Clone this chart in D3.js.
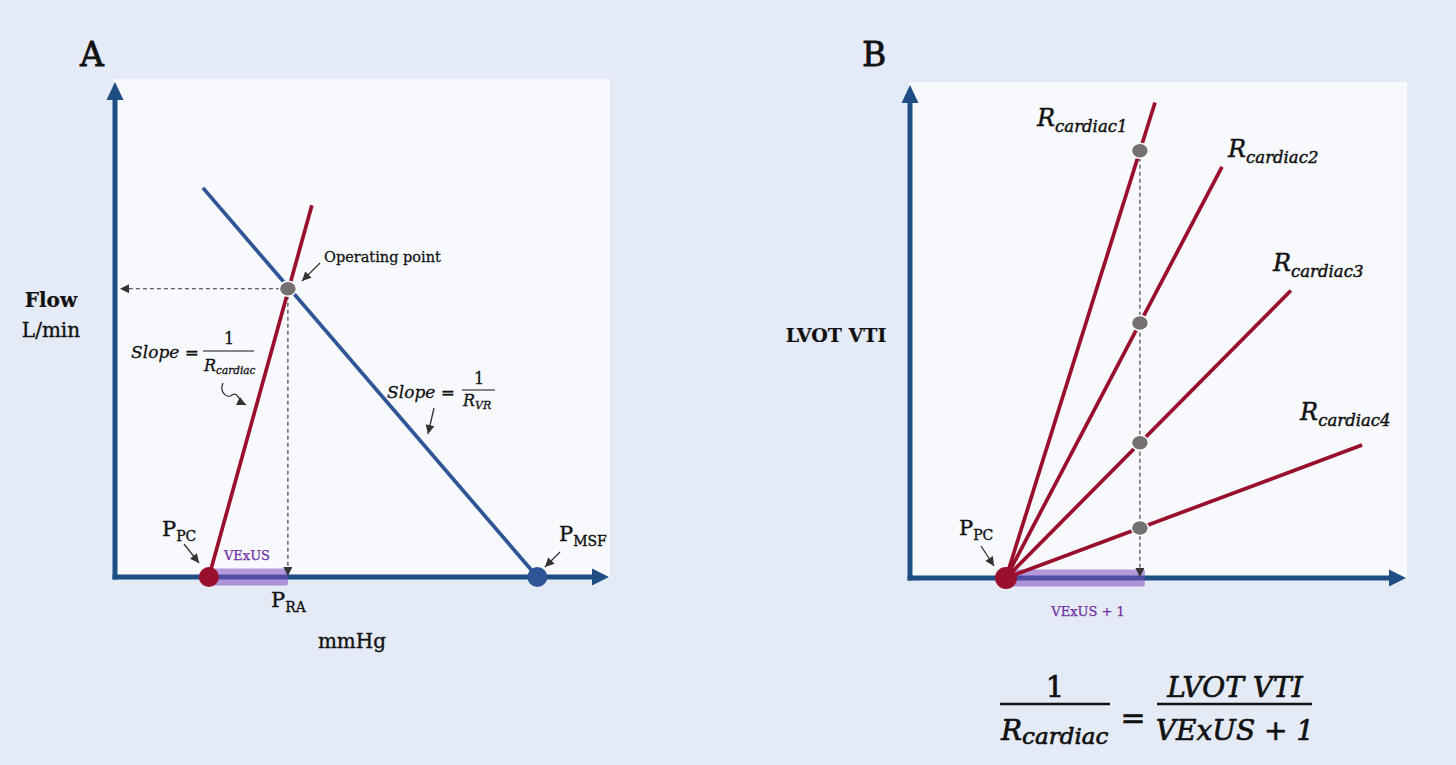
<!DOCTYPE html>
<html><head><meta charset="utf-8">
<script src="https://cdn.jsdelivr.net/npm/d3@7"></script>
<style>html,body{margin:0;padding:0;background:#e5ebf6;}svg{display:block;}</style>
</head><body>
<svg id="chart" width="1456" height="765"></svg>
<script>
// ---------- Data (abstract units) ----------
// Panel A: pressure (mmHg, arbitrary scale 0..20) vs flow (0..10)
const pressureA = { pPC: 3.8, pRA: 7.0, pMSF: 17.1 };
const cardiacLineA = [[3.8, 0], [7.97, 7.48]];   // red line
const venousLineA  = [[3.56, 7.83], [17.1, 0]];  // blue line
const operatingPoint = [7.0, 5.8];

// Panel B: VExUS+1 vs LVOT VTI
const pPCB = 3.87;
const vexusPlus1 = 9.27;
const rLabels = ["cardiac1", "cardiac2", "cardiac3", "cardiac4"];
const vtiAtVexus = [8.63, 5.15, 2.73, 1.01];
const lineEndX = [9.88, 12.58, 15.36, 18.23];

// ---------- Setup ----------
const svg = d3.select("#chart");
const C = { bg:"#e5ebf6", panel:"#f7f9fd", axis:"#1f4e85", blue:"#2f5597", red:"#9a0f2c",
            dot:"#767171", purple:"#7030a0", band:"rgba(125,75,190,0.55)", ink:"#111", arrow:"#333" };
const serif = "'DejaVu Serif', serif";

svg.append("rect").attr("width",1456).attr("height",765).attr("fill",C.bg);

const defs = svg.append("defs");
defs.append("marker").attr("id","ah").attr("viewBox","0 0 10 10").attr("refX",10).attr("refY",5)
  .attr("markerWidth",10).attr("markerHeight",9).attr("markerUnits","userSpaceOnUse").attr("orient","auto")
  .append("path").attr("d","M0,0 L10,5 L0,10 z").attr("fill",C.arrow);

function panel(x, y) {
  const g = svg.append("g");
  g.append("rect").attr("x",x.range()[0]).attr("y",y.range()[1])
    .attr("width",x.range()[1]-x.range()[0]).attr("height",y.range()[0]-y.range()[1])
    .attr("fill",C.panel).attr("stroke","#fbfcff").attr("stroke-width",1.5);
  const x0 = x.range()[0], y0 = y.range()[0], x1 = x.range()[1], y1 = y.range()[1];
  g.append("line").attr("x1",x0).attr("y1",y0+2.5).attr("x2",x0).attr("y2",y1+14)
    .attr("stroke",C.axis).attr("stroke-width",5);
  g.append("path").attr("d",`M${x0},${y1+2} L${x0-8.5},${y1+20} L${x0+8.5},${y1+20} Z`).attr("fill",C.axis);
  g.append("line").attr("x1",x0-2.5).attr("y1",y0).attr("x2",x1-12).attr("y2",y0)
    .attr("stroke",C.axis).attr("stroke-width",5);
  g.append("path").attr("d",`M${x1},${y0} L${x1-17},${y0-8.5} L${x1-17},${y0+8.5} Z`).attr("fill",C.axis);
  return g;
}
function pointer(g, x1, y1, x2, y2) {
  g.append("line").attr("x1",x1).attr("y1",y1).attr("x2",x2).attr("y2",y2)
    .attr("stroke",C.arrow).attr("stroke-width",1.3).attr("marker-end","url(#ah)");
}
function dashArrow(g, x1, y1, x2, y2) {
  g.append("line").attr("x1",x1).attr("y1",y1).attr("x2",x2).attr("y2",y2)
    .attr("stroke",C.arrow).attr("stroke-width",1.1).attr("stroke-dasharray","4,3").attr("marker-end","url(#ah)");
}
function styleText(t, size, opts) {
  const fill = opts.fill || C.ink;
  return t.attr("font-family",serif).attr("font-size",size).attr("fill",fill)
    .attr("font-weight",opts.bold?"bold":"normal").attr("font-style",opts.italic?"italic":"normal")
    .attr("text-anchor",opts.anchor||"start")
    .attr("stroke",fill).attr("stroke-width",opts.sw!==undefined?opts.sw:Math.max(0.25,size*0.018))
    .attr("stroke-linejoin","round");
}
function subText(g, x, y, main, sub, size, subSize, opts={}) {
  const t = styleText(g.append("text").attr("x",x).attr("y",y), size, opts);
  t.append("tspan").text(main);
  t.append("tspan").attr("dy",opts.dy||5).attr("font-size",subSize).text(sub);
  return t;
}
function text(g, x, y, s, size, opts={}) {
  return styleText(g.append("text").attr("x",x).attr("y",y), size, opts).text(s);
}

// ---------- Panel A ----------
const xA = d3.scaleLinear([0,20],[115,609]);
const yA = d3.scaleLinear([0,10],[577,80]);
const gA = panel(xA, yA);
const line = (x,y) => d3.line().x(d=>x(d[0])).y(d=>y(d[1]));

gA.append("rect").attr("x",xA(pressureA.pPC)).attr("y",yA(0)-8.5)
  .attr("width",xA(pressureA.pRA)-xA(pressureA.pPC)).attr("height",17).attr("rx",2).attr("fill",C.band);

gA.append("path").attr("d",line(xA,yA)(venousLineA)).attr("stroke",C.blue).attr("stroke-width",3.7).attr("fill","none");
gA.append("path").attr("d",line(xA,yA)(cardiacLineA)).attr("stroke",C.red).attr("stroke-width",3.7).attr("fill","none");

dashArrow(gA, xA(operatingPoint[0])-8, yA(operatingPoint[1]), xA(0)+5, yA(operatingPoint[1]));
dashArrow(gA, xA(operatingPoint[0]), yA(operatingPoint[1])+7, xA(operatingPoint[0]), yA(0)-1);

gA.append("ellipse").attr("cx",xA(operatingPoint[0])).attr("cy",yA(operatingPoint[1])).attr("rx",8.5).attr("ry",7.5)
  .attr("fill",C.dot).attr("stroke","#fff").attr("stroke-width",1.5);
gA.append("circle").attr("cx",xA(pressureA.pPC)).attr("cy",yA(0)).attr("r",10).attr("fill",C.red);
gA.append("circle").attr("cx",xA(pressureA.pMSF)).attr("cy",yA(0)).attr("r",10).attr("fill",C.blue);

text(gA, 80, 66, "A", 33, {sw:0.8});
text(gA, 51, 307, "Flow", 20, {bold:true, anchor:"middle", sw:0.2});
text(gA, 51, 337, "L/min", 20, {anchor:"middle"});
text(gA, 352, 648, "mmHg", 20, {anchor:"middle"});
text(gA, 324, 262, "Operating point", 14.5);
pointer(gA, 320, 263, 302, 281);

subText(gA, 162, 536, "P", "PC", 21, 14);
pointer(gA, 184, 544, 199, 563);
subText(gA, 271, 607, "P", "RA", 21, 14);
subText(gA, 559, 541, "P", "MSF", 21, 14);
pointer(gA, 560, 552, 545, 567);
text(gA, 247, 560, "VExUS", 13, {anchor:"middle", fill:C.purple});

// slope formulas
text(gA, 199, 358, "Slope =", 17, {italic:true, anchor:"end"});
gA.append("line").attr("x1",203).attr("x2",254).attr("y1",351).attr("y2",351).attr("stroke",C.ink).attr("stroke-width",1.2);
text(gA, 229, 344, "1", 16, {anchor:"middle"});
subText(gA, 204, 371, "R", "cardiac", 16, 10.5, {italic:true, dy:3});
gA.append("path").attr("d","M223,383 C219,392 227,399 232,395 C238,391 238,401 246,405")
  .attr("fill","none").attr("stroke",C.arrow).attr("stroke-width",1.3).attr("marker-end","url(#ah)");

text(gA, 455, 398, "Slope =", 17, {italic:true, anchor:"end"});
gA.append("line").attr("x1",462).attr("x2",495).attr("y1",390).attr("y2",390).attr("stroke",C.ink).attr("stroke-width",1.2);
text(gA, 479, 384, "1", 16, {anchor:"middle"});
subText(gA, 463, 406, "R", "VR", 16, 11, {italic:true, dy:3});
pointer(gA, 434, 408, 428, 434);

// ---------- Panel B ----------
const xB = d3.scaleLinear([0,20],[910,1406]);
const yB = d3.scaleLinear([0,10],[578,83]);
const gB = panel(xB, yB);

gB.append("rect").attr("x",xB(pPCB)).attr("y",yB(0)-8.5)
  .attr("width",xB(vexusPlus1)-xB(pPCB)+5).attr("height",17).attr("rx",2).attr("fill",C.band);

const bLines = vtiAtVexus.map((v,i) => {
  const slope = v / (vexusPlus1 - pPCB);
  return [[pPCB,0],[lineEndX[i], slope*(lineEndX[i]-pPCB)]];
});
gB.selectAll("path.rl").data(bLines).join("path").attr("class","rl")
  .attr("d",d=>line(xB,yB)(d)).attr("stroke",C.red).attr("stroke-width",3.7).attr("fill","none");

dashArrow(gB, xB(vexusPlus1), yB(vtiAtVexus[0])+7, xB(vexusPlus1), yB(0)-1);

gB.selectAll("ellipse.d").data(vtiAtVexus).join("ellipse").attr("class","d")
  .attr("cx",xB(vexusPlus1)).attr("cy",d=>yB(d)).attr("rx",8.5).attr("ry",7.5)
  .attr("fill",C.dot).attr("stroke","#fff").attr("stroke-width",1.5);
gB.append("circle").attr("cx",xB(pPCB)).attr("cy",yB(0)).attr("r",11).attr("fill",C.red);

const labelOff = [[-118,23],[6,-10],[-18,-19],[-62,-25]];
bLines.forEach((l,i) => {
  const ex = xB(l[1][0]), ey = yB(l[1][1]);
  subText(gB, ex+labelOff[i][0], ey+labelOff[i][1], "R", rLabels[i], 24, 16.5, {italic:true, dy:6});
});

text(gB, 862, 66, "B", 33, {sw:0.8});
text(gB, 836, 342, "LVOT VTI", 19, {bold:true, anchor:"middle", sw:0.2});
subText(gB, 959, 535, "P", "PC", 21, 14);
pointer(gB, 981, 546, 994, 566);
text(gB, 1088, 616, "VExUS + 1", 13, {anchor:"middle", fill:C.purple});

// bottom formula
text(gB, 1055, 697, "1", 29, {anchor:"middle", sw:0.7});
gB.append("line").attr("x1",1000).attr("x2",1110).attr("y1",704).attr("y2",704).attr("stroke",C.ink).attr("stroke-width",2.4);
subText(gB, 1001, 740, "R", "cardiac", 28, 23, {italic:true, dy:4, sw:0.7});
text(gB, 1133, 728, "=", 30, {anchor:"middle", sw:0.6});
text(gB, 1235, 697, "LVOT VTI", 28, {italic:true, anchor:"middle", sw:0.7});
gB.append("line").attr("x1",1157).attr("x2",1312).attr("y1",704).attr("y2",704).attr("stroke",C.ink).attr("stroke-width",2.4);
text(gB, 1235, 740, "VExUS + 1", 28, {italic:true, anchor:"middle", sw:0.7});
</script>
</body></html>
